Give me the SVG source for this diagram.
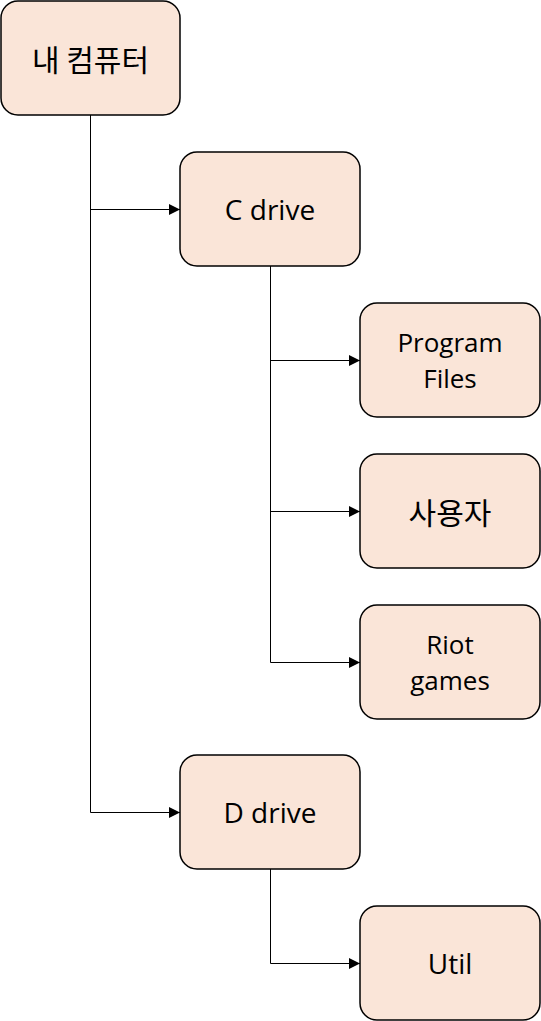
<svg xmlns="http://www.w3.org/2000/svg" width="541" height="1021" viewBox="0 0 541 1021">
<defs>
<marker id="arr" viewBox="0 0 10 10" refX="10" refY="5" markerWidth="12" markerHeight="11" markerUnits="userSpaceOnUse" orient="auto">
<path d="M0,0 L10,5 L0,10 Z" fill="#000"/>
</marker>
<style>
.box{fill:#fae5d8;stroke:#000;stroke-width:1.5}
.lbl{font-family:"Open Sans","Noto Sans CJK KR",sans-serif;font-size:28px;fill:#000;text-anchor:middle;dominant-baseline:central}
.two{font-size:26px}
.ko{font-family:"Noto Sans CJK KR",sans-serif;font-size:30px}
.edge{fill:none;stroke:#000;stroke-width:1;marker-end:url(#arr)}
</style>
</defs>
<g id="connectors">
<path class="edge" d="M90.5,115 V209.5 H180"/>
<path class="edge" d="M90.5,115 V812.5 H180"/>
<path class="edge" d="M270.5,266 V360.5 H360"/>
<path class="edge" d="M270.5,266 V511.5 H360"/>
<path class="edge" d="M270.5,266 V662.5 H360"/>
<path class="edge" d="M270.5,869 V963.5 H360"/>
</g>
<g id="node-mycomputer"><rect class="box" x="1" y="1" width="179" height="114" rx="17"/><text class="lbl ko" x="90.5" y="58">내 컴퓨터</text></g>
<g id="node-cdrive"><rect class="box" x="180" y="152" width="180" height="114" rx="17"/><text class="lbl" x="270" y="209">C drive</text></g>
<g id="node-programfiles"><rect class="box" x="360" y="303" width="180" height="114" rx="17"/><text class="lbl two" x="450" y="342">Program</text><text class="lbl two" x="450" y="378">Files</text></g>
<g id="node-user"><rect class="box" x="360" y="454" width="180" height="114" rx="17"/><text class="lbl ko" x="450" y="511">사용자</text></g>
<g id="node-riot"><rect class="box" x="360" y="605" width="180" height="114" rx="17"/><text class="lbl two" x="450" y="644">Riot</text><text class="lbl two" x="450" y="680">games</text></g>
<g id="node-ddrive"><rect class="box" x="180" y="755" width="180" height="114" rx="17"/><text class="lbl" x="270" y="812">D drive</text></g>
<g id="node-util"><rect class="box" x="360" y="906" width="180" height="114" rx="17"/><text class="lbl" x="450" y="963">Util</text></g>
</svg>
